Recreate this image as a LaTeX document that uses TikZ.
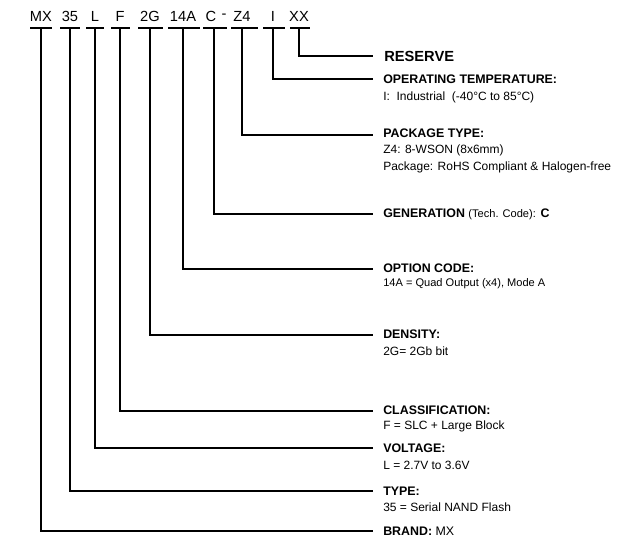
\documentclass[tikz,border=0pt]{standalone}
\usepackage{fontspec}
\setmainfont{Liberation Sans}
\begin{document}
\begin{tikzpicture}[x=0.75pt,y=-0.75pt,
  code/.style={font=\fontsize{11}{12}\selectfont,inner sep=0pt,anchor=center},
  ttl/.style={font=\fontsize{9.3}{11}\selectfont\bfseries,inner sep=0pt,anchor=west},
  sub/.style={font=\fontsize{9}{12.5}\selectfont,inner sep=0pt,anchor=west,align=left},
  ln/.style={line width=0.9pt,black}]
\useasboundingbox (0,0) rectangle (619,547);
% codes
\foreach \n/\t/\x/\v/\a/\b in {mx/MX/41/41/30/52, t35/35/70/70/60/80, l/L/95/95/86/104, f/F/120/120/111/130, g/2G/150/150/138/163, o/14A/183/183/168/200, c/C/211/214/203/227, z/Z4/242/242/231/258, i/I/273/273/263/285, xx/XX/299/299/290/310}{
  \node[code] (\n) at (\x,16) {\t};
  \coordinate (\n L) at (\a,28); \coordinate (\n R) at (\b,28);
  \coordinate (\n B) at (\v,28);
  \draw[ln] (\n L) -- (\n R);
}
\node[code] (dash) at (224,16) {-};
% labels
\node[font=\fontsize{11}{12}\selectfont\bfseries,inner sep=0pt,anchor=west] (res) at (384,56) {RESERVE};
\node[ttl] (tmp) at (383,79) {OPERATING TEMPERATURE:};
\node[sub] (tmps) at (383,97) {I:\ \ Industrial\ \ (-40°C to 85°C)};
\node[ttl] (pkg) at (383,133) {PACKAGE TYPE:};
\node[sub] (pkgs) at (383,159) {Z4: 8-WSON (8x6mm)\\Package: RoHS Compliant \& Halogen-free};
\node[sub] (gen) at (383,214) {\fontsize{9.3}{11}\selectfont\textbf{GENERATION} {\fontsize{8.3}{10}\selectfont(Tech. Code):} \textbf{C}};
\node[ttl] (opt) at (383,268) {OPTION CODE:};
\node[sub] (opts) at (383,284) {\fontsize{8.3}{10}\selectfont 14A = Quad Output (x4), Mode A};
\node[ttl] (den) at (383,334) {DENSITY:};
\node[sub] (dens) at (383,351) {2G= 2Gb bit};
\node[ttl] (cls) at (383,410) {CLASSIFICATION:};
\node[sub] (clss) at (383,426) {F = SLC + Large Block};
\node[ttl] (vol) at (383,448) {VOLTAGE:};
\node[sub] (vols) at (383,465) {L = 2.7V to 3.6V};
\node[ttl] (typ) at (383,491) {TYPE:};
\node[sub] (typs) at (383,507) {35 = Serial NAND Flash};
\node[sub] (brd) at (383,531) {\fontsize{9.3}{11}\selectfont\textbf{BRAND:} MX};
% connectors
\foreach \n/\y/\tg in {xx/56/res, i/79/tmp, z/135/pkg, c/214/gen, o/269/opt, g/335/den, f/411/cls, l/448/vol, t35/491/typ, mx/531/brd}{
  \coordinate (\n K) at (\n B |- 0,\y);
  \coordinate (\n E) at (373,\y);
  \draw[ln] (\n B) -- (\n K) -- (\n E);
}
\end{tikzpicture}
\end{document}
